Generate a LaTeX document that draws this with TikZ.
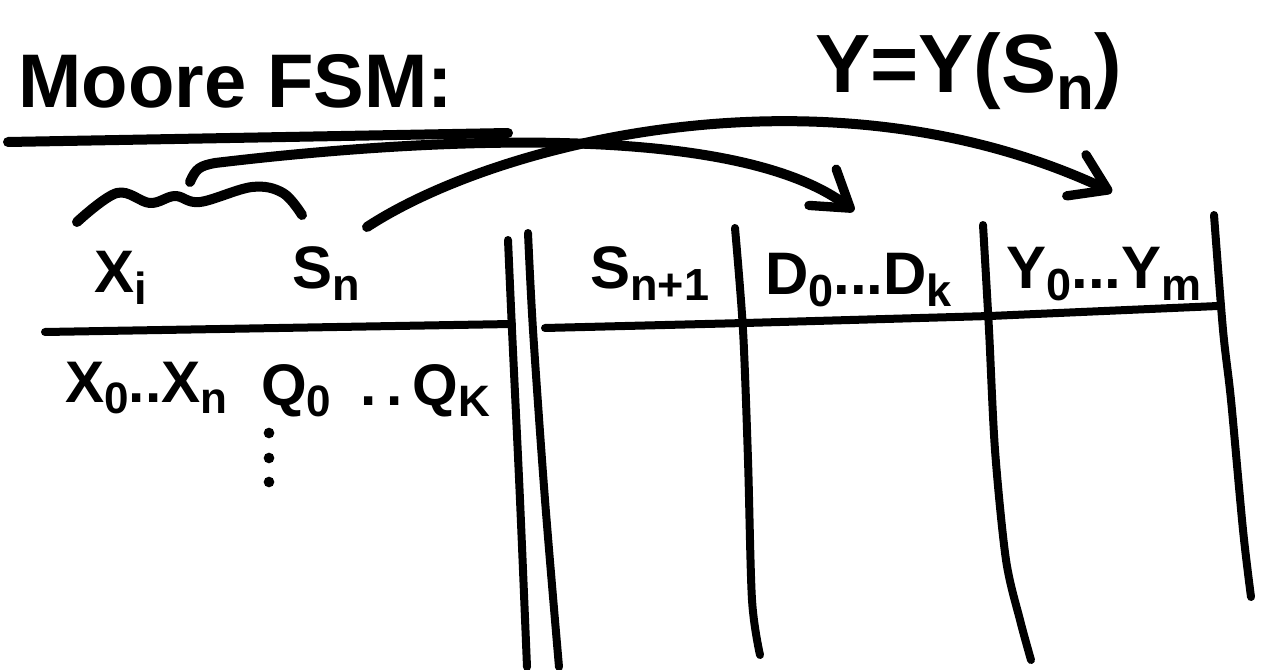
\documentclass[tikz,border=0pt]{standalone}
\usepackage{fontspec}
\usepackage{graphicx}
\setmainfont{Liberation Sans}
\usetikzlibrary{arrows.meta}
\newcommand{\lo}[1]{\raisebox{-0.2em}{\scalebox{0.75}{#1}}}

\begin{document}
\begin{tikzpicture}[x=0.75pt,y=-0.75pt,
	ink/.style={line width=7.5pt,line cap=round,line join=round},
	rule/.style={line width=6pt,line cap=round,line join=round},
	barb/.style={-{Straight Barb[length=26pt,width=34pt,line width=7pt,round]}},
	title/.style={font=\bfseries\fontsize{57}{60}\selectfont,inner sep=0pt,anchor=base west},
	law/.style={font=\bfseries\fontsize{62}{66}\selectfont,inner sep=0pt,anchor=base west},
	head/.style={font=\bfseries\fontsize{45}{50}\selectfont,inner sep=0pt,anchor=base west},
	cell/.style={font=\bfseries\fontsize{44}{48}\selectfont,inner sep=0pt,anchor=base west}]
	\useasboundingbox (0,0) rectangle (1263,670);
	
	\node[title] (moore) at (18,108) {Moore FSM:};
	\draw[ink] (8,142) -- (508,133);
	\node[law] (ylaw) at (815,93) {Y=Y(S\lo{n})};
	
	% header of the table
	\node[head] (xi) at (94,292) {X\lo{i}};
	\node[head] (sn) at (292,288) {S\lo{n}};
	\node[head] (snext) at (590,288) {S\lo{n+1}};
	\node[head] (dhead) at (765,294) {D\lo{0}...D\lo{k}};
	\node[head] (yhead) at (1006,288) {Y\lo{0}...Y\lo{m}};
	
	% first row
	\node[cell] (xrow) at (65,402) {X\lo{0}..X\lo{n}};
	\node[cell] (qrow) at (261,405) {Q\lo{0}\enskip.\,.\,Q\lo{K}};
	\foreach \y in {433,458,482} \fill (269,\y) circle (4pt);
	
	% rules
	\draw[rule] (45,332) -- (512,324);
	\draw[rule] (545,328) -- (745,323) -- (990,316) -- (1218,306);
	\draw[rule] plot[smooth] coordinates {(508,240) (512,330) (520,500) (527,667)};
	\draw[rule] plot[smooth] coordinates {(528,233) (533,330) (545,500) (559,667)};
	\draw[rule] plot[smooth] coordinates {(735,228) (743,330) (748,460) (752,600) (760,655)};
	\draw[rule] plot[smooth] coordinates {(983,225) (989,330) (995,450) (1006,560) (1020,620) (1031,660)};
	\draw[rule] plot[smooth] coordinates {(1214,215) (1223,330) (1231,400) (1243,530) (1251,597)};
	
	% brace over the inputs and arrows
	\draw[ink] plot[smooth,tension=0.6] coordinates {(77,222) (117,193) (150,203) (175,196) (200,202) (252,187) (283,193) (302,215)};
	\coordinate (grp) at (190,182);
	\coordinate (sn-out) at (367,227);
	\coordinate (d-in) at (854,211);
	\coordinate (y-in) at (1112,192);
	\draw[ink,barb] (grp) .. controls (196,168) and (200,166) .. (215,163) .. controls (450,135) and (740,125) .. (d-in);
	\draw[ink,barb] (sn-out) .. controls (500,140) and (830,60) .. (y-in);
\end{tikzpicture}
\end{document}
